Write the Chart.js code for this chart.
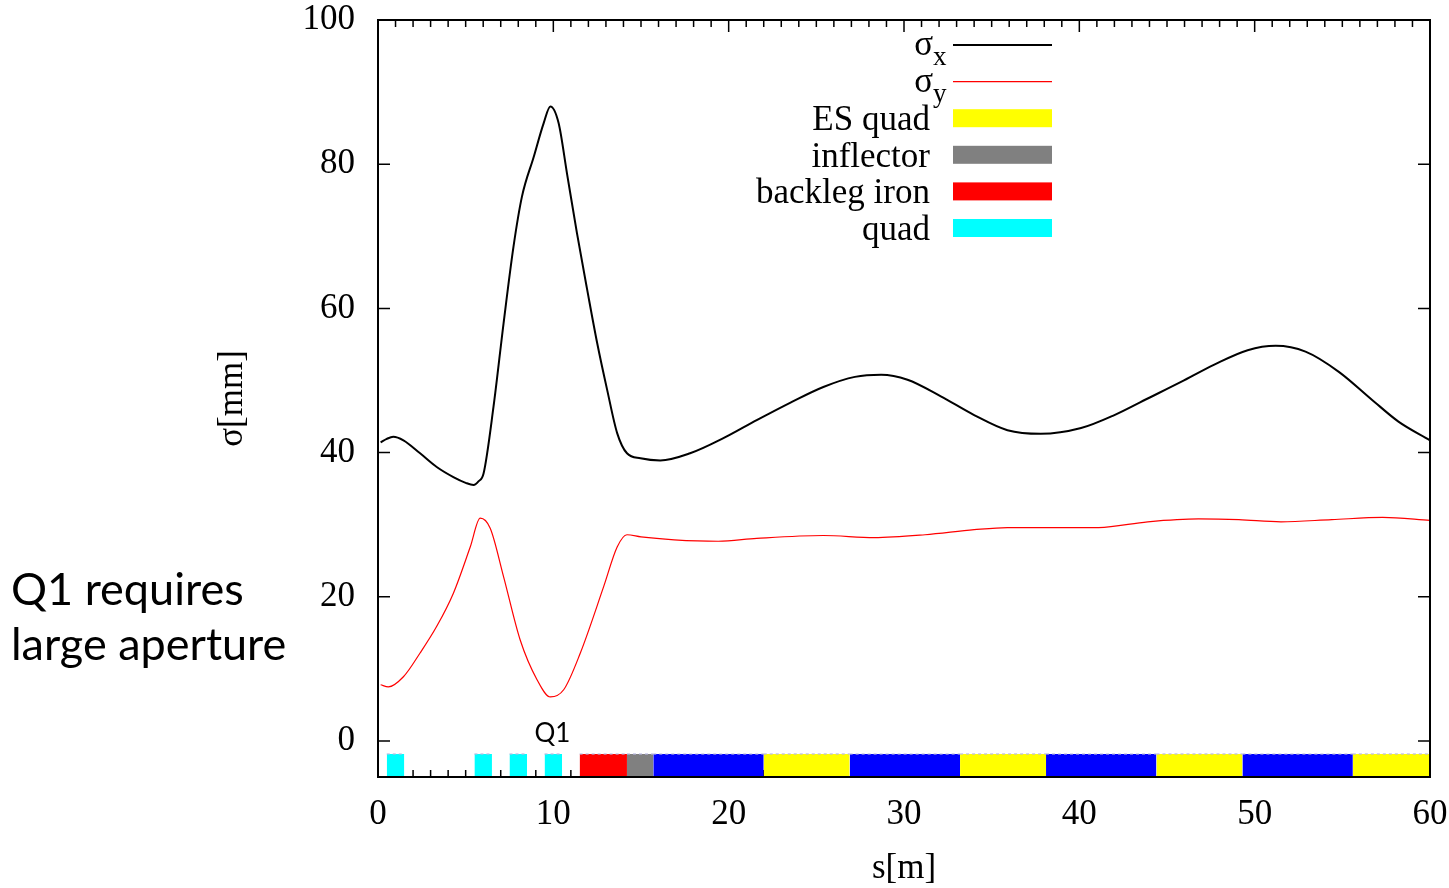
<!DOCTYPE html>
<html>
<head>
<meta charset="utf-8">
<script src="https://cdn.jsdelivr.net/npm/chart.js@4.4.0/dist/chart.umd.min.js"></script>
<style>
body { margin: 0; background: #fff; }
#wrap { position: relative; width: 1449px; height: 888px; }
#note {
  position: absolute; left: 11px; top: 561px;
  font-family: Lato, "Open Sans", sans-serif; font-size: 45px; line-height: 55px; color: #000;
}
</style>
</head>
<body>
<div id="wrap">
  <canvas id="chart" width="1449" height="888"></canvas>
  <div id="note">Q1 requires<br>large aperture</div>
</div>
<script>
// beam size along the line
const sigmaXS = [0.15, 0.5, 0.87, 1.45, 2.4, 3.35, 4.3, 5.0, 5.45, 5.73, 6.02, 6.59, 7.16, 7.73, 8.21, 8.88, 9.45, 9.83, 10.3, 10.78, 11.35, 11.93, 12.5, 13.07, 13.64, 14.2, 14.97, 16.1, 17.8, 19.7, 21.6, 23.5, 25.4, 27.2, 28.7, 30.2, 32.1, 34.0, 35.9, 37.8, 40.1, 42.0, 43.9, 45.8, 47.7, 49.6, 51.2, 52.9, 54.8, 56.7, 58.2, 60];
const sigmaX = [41.4, 41.9, 42.2, 41.7, 39.9, 38.0, 36.6, 35.8, 35.5, 36.0, 37.1, 46.4, 57.9, 68.6, 75.5, 81.0, 85.7, 88.0, 85.7, 78.7, 70.4, 62.6, 55.2, 48.7, 42.7, 39.9, 39.2, 38.9, 39.9, 42.0, 44.5, 46.9, 49.1, 50.5, 50.8, 50.1, 47.8, 45.2, 43.1, 42.6, 43.4, 45.2, 47.5, 49.8, 52.2, 54.2, 54.8, 54.0, 51.2, 47.3, 44.3, 41.7];

const sigmaYS = [0.15, 0.59, 1.45, 2.4, 3.35, 4.3, 5.26, 5.83, 6.4, 7.16, 8.11, 9.07, 9.83, 10.59, 11.54, 12.87, 13.64, 14.2, 15.0, 16.9, 19.4, 21.6, 25.4, 28.3, 31.2, 34.0, 35.9, 37.8, 41.1, 43.9, 46.8, 49.1, 51.5, 54.4, 57.3, 60];
const sigmaY = [7.8, 7.5, 8.9, 12.2, 15.9, 20.5, 26.9, 30.9, 29.5, 22.8, 14.0, 8.5, 6.1, 7.1, 12.2, 21.4, 26.9, 28.6, 28.3, 27.9, 27.7, 28.1, 28.5, 28.2, 28.6, 29.3, 29.6, 29.6, 29.6, 30.4, 30.8, 30.7, 30.4, 30.7, 31.0, 30.6];

// beamline elements (start / end in m)
const quadStart = [0.5, 5.5, 7.5, 9.5];
const quadEnd = [1.5, 6.5, 8.5, 10.5];
const backlegStart = [11.5];
const backlegEnd = [14.2];
const inflectorStart = [14.2];
const inflectorEnd = [15.7];
const dipoleStart = [15.7, 26.9, 38.1, 49.3];
const dipoleEnd = [22.0, 33.2, 44.4, 55.6];
const esQuadStart = [22.0, 33.2, 44.4, 55.6];
const esQuadEnd = [26.9, 38.1, 49.3, 60];

const xTicks = [0, 10, 20, 30, 40, 50, 60];
const yTicks = [0, 20, 40, 60, 80, 100];

const bandTop = -1.8;
const q1Label = { s: 9.95, v: 1.0, text: 'Q1' };

function pairs(xs, ys) {
  return xs.map((s, i) => ({ x: s, y: ys[i] }));
}

// rectangles as line segments filled down to the axis start
function band(starts, ends) {
  const pts = [];
  starts.forEach((s, i) => {
    pts.push({ x: s, y: bandTop }, { x: ends[i], y: bandTop }, { x: ends[i], y: null });
  });
  return pts;
}

function bandSet(label, color, starts, ends, row) {
  return {
    label: label,
    data: band(starts, ends),
    backgroundColor: color,
    borderColor: 'rgba(185,185,225,0.8)',
    borderWidth: 1.5,
    borderDash: [3, 3],
    fill: 'start',
    pointRadius: 0,
    tension: 0,
    legendRow: row,
    legendBox: true
  };
}

const serif = '"Liberation Serif", "Times New Roman", serif';
Chart.defaults.font.family = serif;
Chart.defaults.font.size = 35;
Chart.defaults.color = '#000';

// inward ticks on all four sides + frame
const frameTicks = {
  id: 'frameTicks',
  beforeDatasetsDraw(chart) {
    const { ctx, chartArea: a, scales: { x, y } } = chart;
    ctx.save();
    ctx.strokeStyle = '#000';
    ctx.lineWidth = 1.5;
    ctx.beginPath();
    for (let s = 0; s <= 60; s++) {
      const px = x.getPixelForValue(s);
      const len = s % 10 === 0 ? 12 : 7;
      ctx.moveTo(px, a.bottom); ctx.lineTo(px, a.bottom - len);
      ctx.moveTo(px, a.top); ctx.lineTo(px, a.top + len);
    }
    yTicks.forEach(v => {
      const py = y.getPixelForValue(v);
      ctx.moveTo(a.left, py); ctx.lineTo(a.left + 12, py);
      ctx.moveTo(a.right, py); ctx.lineTo(a.right - 12, py);
    });
    ctx.stroke();
    ctx.restore();
  },
  afterDatasetsDraw(chart) {
    const { ctx, chartArea: a, scales: { x, y } } = chart;
    ctx.save();
    ctx.strokeStyle = '#000';
    ctx.lineWidth = 2;
    ctx.strokeRect(a.left, a.top, a.right - a.left, a.bottom - a.top);
    // Q1 label
    ctx.fillStyle = '#000';
    ctx.font = '26px Lato, "Open Sans", sans-serif';
    ctx.textAlign = 'center';
    ctx.textBaseline = 'middle';
    ctx.fillText(q1Label.text, x.getPixelForValue(q1Label.s), y.getPixelForValue(q1Label.v));
    ctx.restore();
  }
};

// gnuplot style key, text right aligned next to the sample
const sideLegend = {
  id: 'sideLegend',
  afterDraw(chart) {
    const ctx = chart.ctx;
    const textRight = 930, sampleLeft = 953, sampleRight = 1052;
    ctx.save();
    ctx.fillStyle = '#000';
    ctx.textBaseline = 'alphabetic';
    chart.data.datasets.forEach(ds => {
      if (ds.legendRow === undefined) return;
      const rowY = 45 + ds.legendRow * 36.6;
      if (ds.subscript) {
        ctx.font = '35px ' + serif;
        ctx.textAlign = 'right';
        ctx.fillText(ds.label[0], 933, rowY + 10);
        ctx.font = '27px ' + serif;
        ctx.textAlign = 'left';
        ctx.fillText(ds.label.slice(1), 933, rowY + 20);
      } else {
        ctx.font = '35px ' + serif;
        ctx.textAlign = 'right';
        ctx.fillText(ds.label, textRight, rowY + 12);
      }
      if (ds.legendBox) {
        ctx.fillStyle = ds.backgroundColor;
        ctx.fillRect(sampleLeft, rowY - 9, sampleRight - sampleLeft, 18);
        ctx.fillStyle = '#000';
      } else {
        ctx.strokeStyle = ds.borderColor;
        ctx.lineWidth = ds.borderWidth;
        ctx.beginPath();
        ctx.moveTo(sampleLeft, rowY);
        ctx.lineTo(sampleRight, rowY);
        ctx.stroke();
      }
    });
    ctx.restore();
  }
};

const chart = new Chart(document.getElementById('chart'), {
  type: 'line',
  data: {
    datasets: [
      {
        label: 'σx', subscript: true, legendRow: 0,
        data: pairs(sigmaXS, sigmaX),
        borderColor: '#000', borderWidth: 2,
        pointRadius: 0, cubicInterpolationMode: 'monotone', fill: false
      },
      {
        label: 'σy', subscript: true, legendRow: 1,
        data: pairs(sigmaYS, sigmaY),
        borderColor: '#ff0000', borderWidth: 1.2,
        pointRadius: 0, cubicInterpolationMode: 'monotone', fill: false
      },
      bandSet('ES quad', '#ffff00', esQuadStart, esQuadEnd, 2),
      bandSet('inflector', '#808080', inflectorStart, inflectorEnd, 3),
      bandSet('backleg iron', '#ff0000', backlegStart, backlegEnd, 4),
      bandSet('quad', '#00ffff', quadStart, quadEnd, 5),
      bandSet('dipole', '#0000ff', dipoleStart, dipoleEnd, undefined)
    ]
  },
  options: {
    responsive: false,
    animation: false,
    layout: { padding: { left: 212, right: 19, top: 20, bottom: 0 } },
    plugins: {
      legend: { display: false },
      tooltip: { enabled: false }
    },
    scales: {
      x: {
        type: 'linear',
        min: 0, max: 60,
        afterBuildTicks: s => { s.ticks = xTicks.map(v => ({ value: v })); },
        afterFit: s => { s.height = 111; s.paddingLeft = 0; s.paddingRight = 0; },
        grid: { display: false },
        border: { display: false },
        ticks: { padding: 9, maxRotation: 0 },
        title: { display: true, text: 's[m]', padding: { top: 0, bottom: -2 } }
      },
      y: {
        type: 'linear',
        min: -5, max: 100,
        afterBuildTicks: s => { s.ticks = yTicks.map(v => ({ value: v })); },
        afterFit: s => { s.width = 166; s.paddingTop = 0; s.paddingBottom = 0; },
        grid: { display: false },
        border: { display: false },
        ticks: { padding: 15 },
        title: { display: true, text: 'σ[mm]', padding: 0 }
      }
    }
  },
  plugins: [frameTicks, sideLegend]
});
</script>
</body>
</html>
